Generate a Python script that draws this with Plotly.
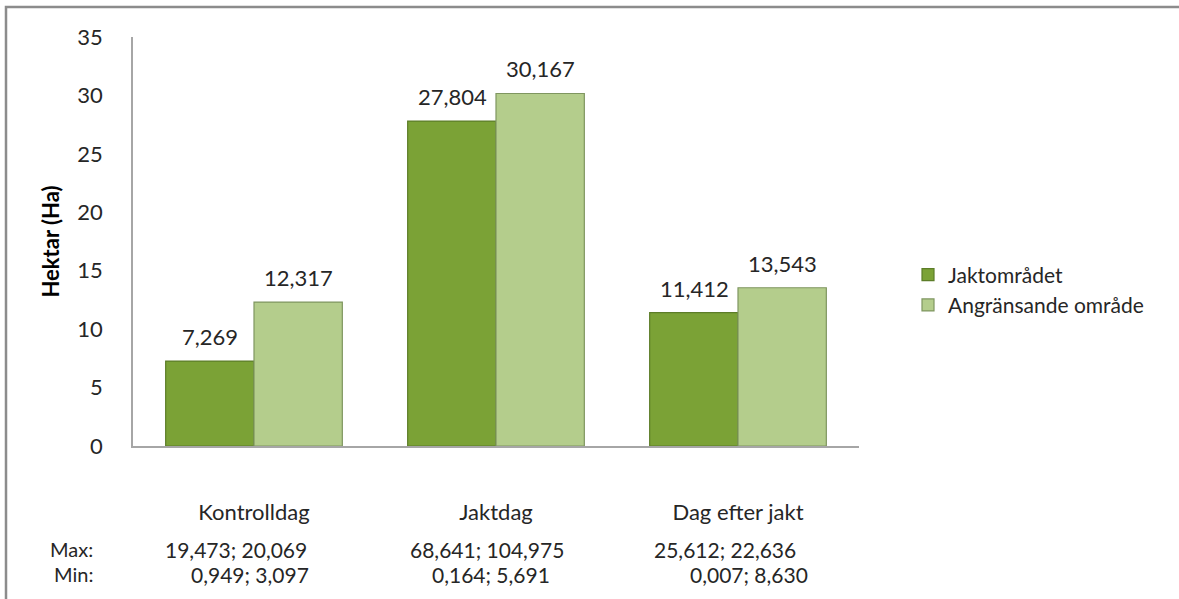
import plotly.graph_objects as go

categories = ["Kontrolldag", "Jaktdag", "Dag efter jakt"]
series_names = ["Jaktområdet", "Angränsande område"]
jakt_values = [7.269, 27.804, 11.412]
angr_values = [12.317, 30.167, 13.543]
max_labels = ["19,473; 20,069", "68,641; 104,975", "25,612; 22,636"]
min_labels = ["0,949; 3,097", "0,164; 5,691", "0,007; 8,630"]
y_ticks = [0, 5, 10, 15, 20, 25, 30, 35]

FONT = "Lato"
TXT = "#262626"
W, H = 1179, 599
L, R, T, B = 133, 1179 - 859, 37, 599 - 446
PW, PH = W - L - R, H - T - B


def px_to_paper_x(px):
    return (px - L) / PW


def px_to_paper_y(py):
    return (H - B - py) / PH


def fmt(v):
    return f"{v:.3f}".replace(".", ",")


fig = go.Figure()
fig.add_trace(go.Bar(
    name=series_names[0], x=categories, y=jakt_values,
    marker=dict(color="#7BA236", line=dict(color="#5C7D28", width=1.2)),
))
fig.add_trace(go.Bar(
    name=series_names[1], x=categories, y=angr_values,
    marker=dict(color="#B4CD8C", line=dict(color="#7F9660", width=1.2)),
))

annotations = []
for vals, shift in [(jakt_values, -44), (angr_values, 44)]:
    for c, v in zip(categories, vals):
        annotations.append(dict(
            x=c, y=v, xref="x", yref="y", xshift=shift, yshift=9,
            text=fmt(v), showarrow=False, xanchor="center", yanchor="bottom",
            font=dict(family=FONT, size=22, color=TXT),
        ))

row_y = [549, 574]
row_font = 20
for label, py in zip(["Max:", "Min:"], row_y):
    annotations.append(dict(
        x=px_to_paper_x(95), y=px_to_paper_y(py), xref="paper", yref="paper",
        text=label, showarrow=False, xanchor="right", yanchor="middle",
        font=dict(family=FONT, size=row_font, color=TXT),
    ))
max_left_px = [163, 408, 652]
min_right_px = [311, 552, 810]
for i in range(len(categories)):
    annotations.append(dict(
        x=px_to_paper_x(max_left_px[i]), y=px_to_paper_y(row_y[0]),
        xref="paper", yref="paper", text=max_labels[i], showarrow=False,
        xanchor="left", yanchor="middle",
        font=dict(family=FONT, size=row_font + 1, color=TXT),
    ))
    annotations.append(dict(
        x=px_to_paper_x(min_right_px[i]), y=px_to_paper_y(row_y[1]),
        xref="paper", yref="paper", text=min_labels[i], showarrow=False,
        xanchor="right", yanchor="middle",
        font=dict(family=FONT, size=row_font + 1, color=TXT),
    ))

shapes = [dict(
    type="rect", xref="paper", yref="paper",
    x0=px_to_paper_x(6), x1=px_to_paper_x(1190),
    y0=px_to_paper_y(610), y1=px_to_paper_y(7),
    line=dict(color="#8C8C8C", width=2.5), fillcolor="rgba(0,0,0,0)",
    layer="below",
)]

fig.update_layout(
    width=W, height=H,
    margin=dict(l=L, r=R, t=T, b=B, pad=0),
    paper_bgcolor="white", plot_bgcolor="white",
    barmode="group", bargap=0.27, bargroupgap=0,
    font=dict(family=FONT, size=21, color=TXT),
    showlegend=True,
    legend=dict(
        x=px_to_paper_x(908), y=px_to_paper_y(290), xanchor="left", yanchor="middle",
        font=dict(family=FONT, size=21, color=TXT),
        itemwidth=30, tracegroupgap=0, bgcolor="rgba(0,0,0,0)",
    ),
    xaxis=dict(
        showline=True, linecolor="#A6A6A6", linewidth=1.5,
        ticks="", showgrid=False, zeroline=False,
        tickfont=dict(family=FONT, size=22, color=TXT),
        ticklabelstandoff=46,
    ),
    yaxis=dict(
        range=[0, 35], tickvals=y_ticks, showline=True, linecolor="#A6A6A6",
        linewidth=1.5, ticks="", showgrid=False, zeroline=False,
        tickfont=dict(family=FONT, size=22, color=TXT),
        ticklabelstandoff=24,
        title=dict(text="<b>Hektar (Ha)</b>", font=dict(family=FONT, size=22, color="#000000"), standoff=12),
    ),
    annotations=annotations,
    shapes=shapes,
)

fig.write_html(
    "out.html",
    config={"displayModeBar": False},
    post_script="document.body.style.margin='0';document.body.style.overflow='hidden';",
)
